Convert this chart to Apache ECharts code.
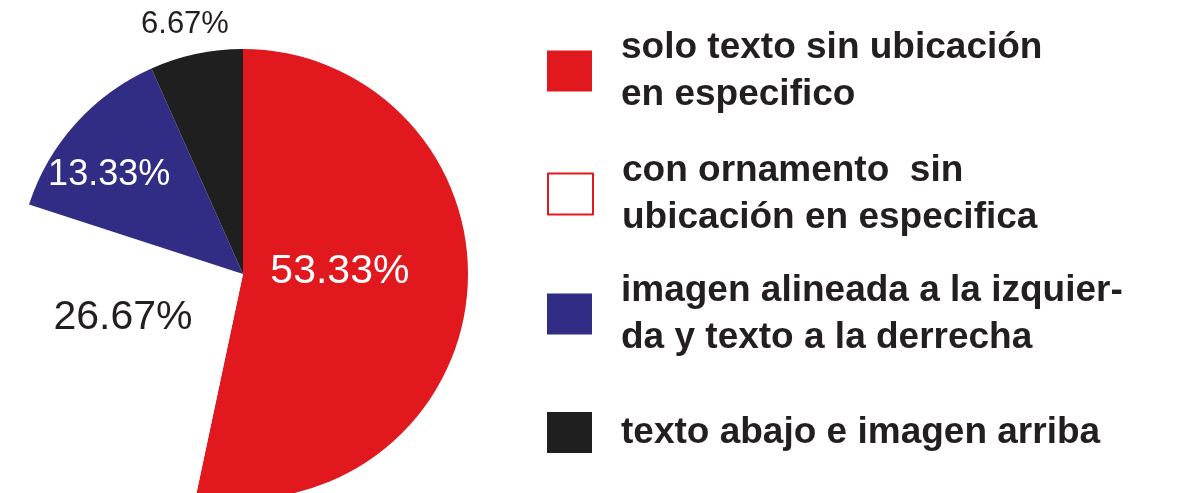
<!DOCTYPE html>
<html>
<head>
<meta charset="utf-8">
<script src="https://cdn.jsdelivr.net/npm/echarts@6/dist/echarts.min.js"></script>
<style>
  html, body { margin: 0; padding: 0; background: #fff; }
  #chart { width: 1192px; height: 493px; }
</style>
</head>
<body>
<div id="chart"></div>
<script>
// slice names, as printed in the legend
const categories = [
    'solo texto sin ubicación\nen especifico',
    'con ornamento  sin\nubicación en especifica',
    'imagen alineada a la izquier-\nda y texto a la derrecha',
    'texto abajo e imagen arriba'
];
// percent of each slice
const shares = [53.33, 26.67, 13.33, 6.67];

const sliceColors = ['#e1191e', '#ffffff', '#312d84', '#1f1f1f'];
const labelColors = ['#ffffff', '#231f20', '#ffffff', '#231f20'];
const labelSizes = [41, 41, 36, 31];
// nudges from the default inside label spot
const labelNudge = [[-18, -14], [-20, -14], [-48, -22], [-34, -137]];
// top of each legend row
const legendTops = [24, 147, 267, 409];

const chart = echarts.init(document.getElementById('chart'), null, { renderer: 'canvas' });

const legends = categories.map((name, i) => {
    const item = { name: name };
    if (sliceColors[i] === '#ffffff') {
        item.itemStyle = { borderColor: '#e1191e', borderWidth: 2 };
    }
    return {
        orient: 'vertical',
        left: 547,
        top: legendTops[i],
        padding: 0,
        selectedMode: false,
        icon: 'rect',
        itemWidth: 45,
        itemHeight: 41,
        data: [item],
        textStyle: {
            fontFamily: 'Liberation Sans',
            fontWeight: 'bold',
            fontSize: 37,
            lineHeight: 47,
            color: '#231f20',
            padding: [0, 0, 0, 24]
        }
    };
});

const option = {
    backgroundColor: '#ffffff',
    animation: false,
    legend: legends,
    series: [{
        type: 'pie',
        center: [243, 274],
        radius: 225,
        startAngle: 90,
        clockwise: true,
        silent: true,
        itemStyle: { borderWidth: 0 },
        label: {
            show: true,
            position: 'inside',
            fontFamily: 'Liberation Sans',
            formatter: (p) => p.value.toFixed(2) + '%'
        },
        labelLine: { show: false },
        labelLayout: (params) => ({
            dx: labelNudge[params.dataIndex][0],
            dy: labelNudge[params.dataIndex][1]
        }),
        data: categories.map((name, i) => ({
            name: name,
            value: shares[i],
            itemStyle: { color: sliceColors[i] },
            label: { color: labelColors[i], fontSize: labelSizes[i] }
        }))
    }]
};

chart.setOption(option);
</script>
</body>
</html>
